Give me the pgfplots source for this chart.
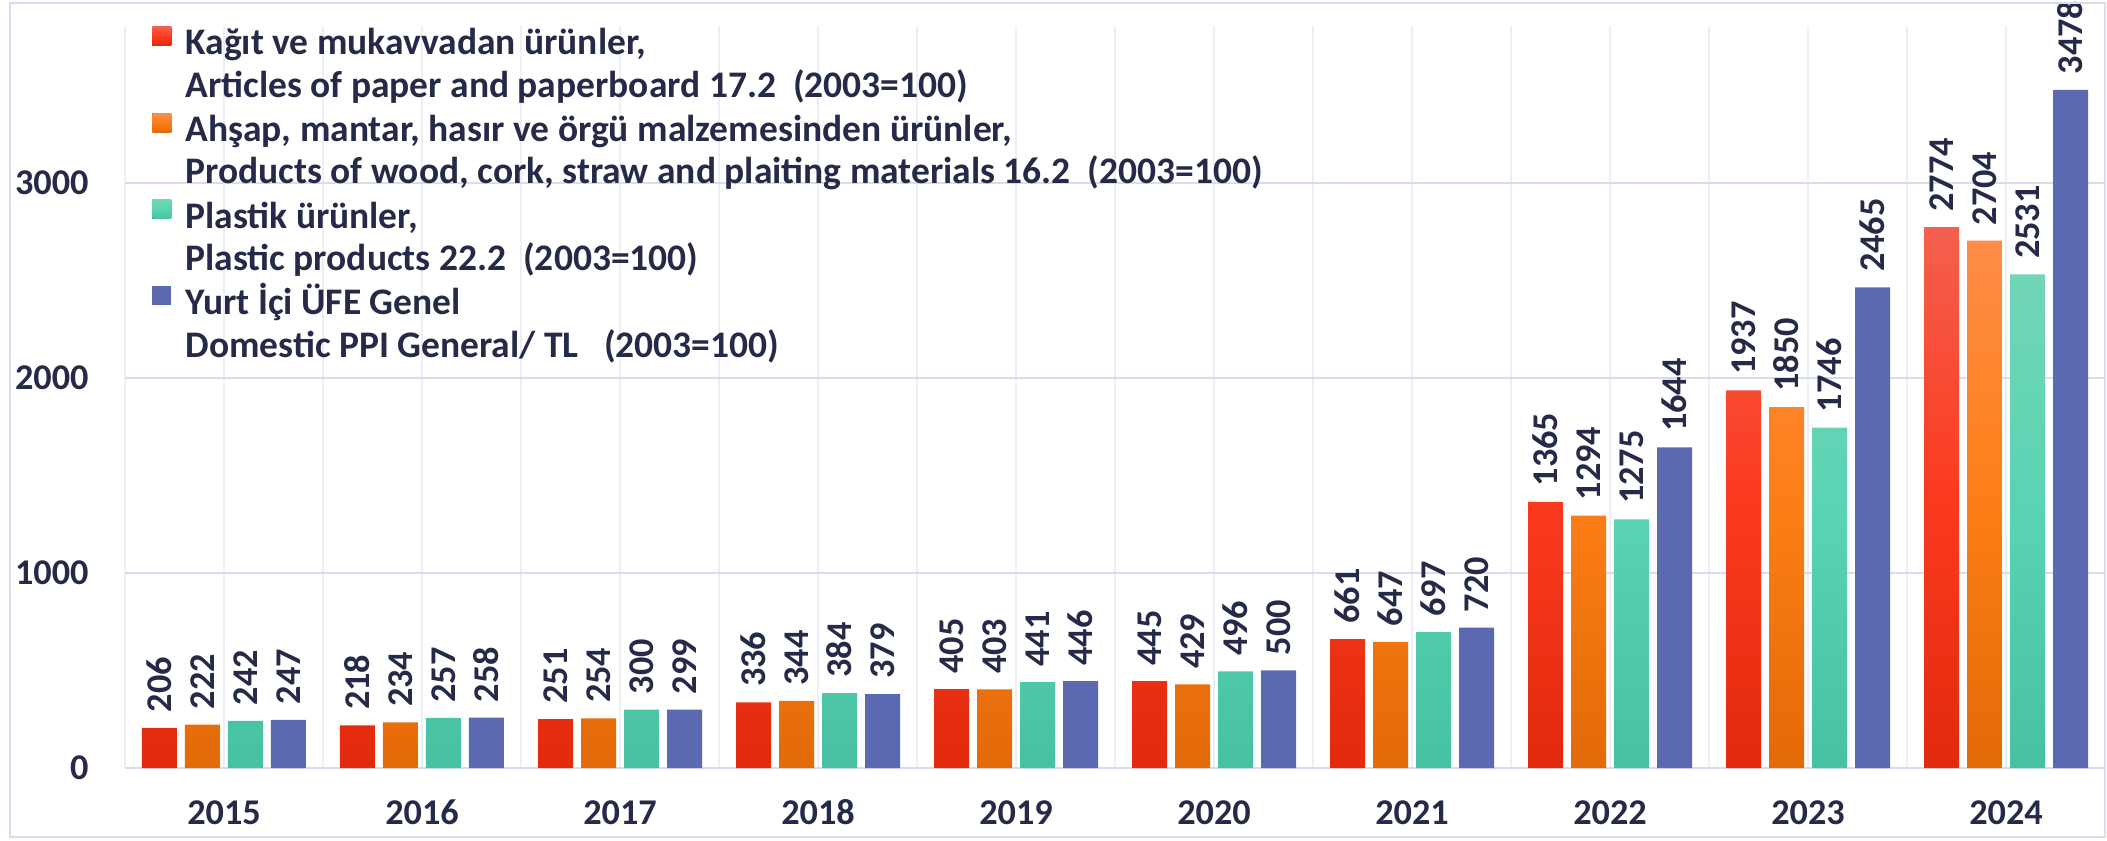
\documentclass[border=0pt]{standalone}
\usepackage{fontspec}
\setmainfont{Carlito}
\usepackage{pgfplots}
\pgfplotsset{compat=1.18}
\usetikzlibrary{calc}

\definecolor{txt}{HTML}{252A48}
\definecolor{gridh}{HTML}{D9DCEE}
\definecolor{gridv}{HTML}{EDEEF6}
\definecolor{bordc}{HTML}{D9DCEF}
\definecolor{redT}{HTML}{F4604F}
\definecolor{redM}{HTML}{FB3A1E}
\definecolor{redB}{HTML}{E22A0C}
\definecolor{oraT}{HTML}{FF8D47}
\definecolor{oraM}{HTML}{FC7E16}
\definecolor{oraB}{HTML}{E36A08}
\definecolor{grnT}{HTML}{72D5B8}
\definecolor{grnM}{HTML}{58D4B2}
\definecolor{grnB}{HTML}{46C1A1}
\definecolor{blu}{HTML}{5B69B0}

\begin{document}
\begin{tikzpicture}
\begin{axis}[
    name=ax,
    scale only axis,
    width=792pt, height=296.8pt,
    xmin=-0.5, xmax=9.5,
    ymin=0, ymax=3805,
    ybar=3.2pt, bar width=14pt,
    xtick={0,...,9},
    xticklabels={2015,2016,2017,2018,2019,2020,2021,2022,2023,2024},
    minor xtick={-0.5,0.5,...,9.5},
    ytick={0,1000,2000,3000},
    xmajorgrids, xminorgrids, ymajorgrids,
    grid style={line width=0.8pt, draw=gridv},
    y grid style={line width=0.8pt, draw=gridh},
    axis line style={draw=none},
    tick style={draw=none},
    /pgf/number format/assume math mode=true,
    /pgf/number format/1000 sep={},
    ticklabel style={font=\fontsize{14.5}{17}\selectfont\bfseries, text=txt},
    yticklabel style={anchor=east, inner sep=0pt, xshift=-14.4pt},
    xticklabel style={anchor=north, inner sep=0pt, text height=10pt, text depth=0pt, yshift=-8pt},
    nodes near coords,
    every node near coord/.append style={
        rotate=90, anchor=west, inner sep=0pt, inner xsep=6pt,
        font=\fontsize{14.5}{17}\selectfont\bfseries, text=txt},
    legend cell align=left,
    legend image code/.code={\fill[#1] (0pt,0pt) rectangle (7.6pt,7.6pt);},
    legend style={
        at={(axis description cs:0.0136,1.0)}, anchor=north west,
        draw=none, fill=none, inner sep=0pt,
        row sep=3.4pt, column sep=5.6pt,
        font=\fontsize{15}{17}\selectfont\bfseries, text=txt,
        nodes={inner sep=0pt, text height=10.5pt, text depth=3pt}},
]
\addplot[draw=none, top color=redT, bottom color=redB, middle color=redM]
    coordinates {(0,206) (1,218) (2,251) (3,336) (4,405) (5,445) (6,661) (7,1365) (8,1937) (9,2774)};
\addlegendentry{Kağıt ve mukavvadan ürünler,}
\addlegendimage{empty legend}
\addlegendentry{Articles of paper and paperboard 17.2\ \ (2003=100)}

\addplot[draw=none, top color=oraT, bottom color=oraB, middle color=oraM]
    coordinates {(0,222) (1,234) (2,254) (3,344) (4,403) (5,429) (6,647) (7,1294) (8,1850) (9,2704)};
\addlegendentry{Ahşap, mantar, hasır ve örgü malzemesinden ürünler,}
\addlegendimage{empty legend}
\addlegendentry{Products of wood, cork, straw and plaiting materials 16.2\ \ (2003=100)}

\addplot[draw=none, top color=grnT, bottom color=grnB, middle color=grnM]
    coordinates {(0,242) (1,257) (2,300) (3,384) (4,441) (5,496) (6,697) (7,1275) (8,1746) (9,2531)};
\addlegendentry{Plastik ürünler,}
\addlegendimage{empty legend}
\addlegendentry{Plastic products 22.2\ \ (2003=100)}

\addplot[draw=none, fill=blu]
    coordinates {(0,247) (1,258) (2,299) (3,379) (4,446) (5,500) (6,720) (7,1644) (8,2465) (9,3478)};
\addlegendentry{Yurt İçi ÜFE Genel}
\addlegendimage{empty legend}
\addlegendentry{Domestic PPI General/ TL\ \ \ (2003=100)}
\end{axis}
\pgfresetboundingbox
\path ($(ax.south west)+(-50pt,-28.8pt)$) rectangle ($(ax.north east)+(0.8pt,10.4pt)$);
\draw[bordc, line width=0.8pt] ($(ax.south west)+(-46pt,-27.6pt)$) rectangle ($(ax.north east)+(0pt,9.2pt)$);
\end{tikzpicture}
\end{document}
